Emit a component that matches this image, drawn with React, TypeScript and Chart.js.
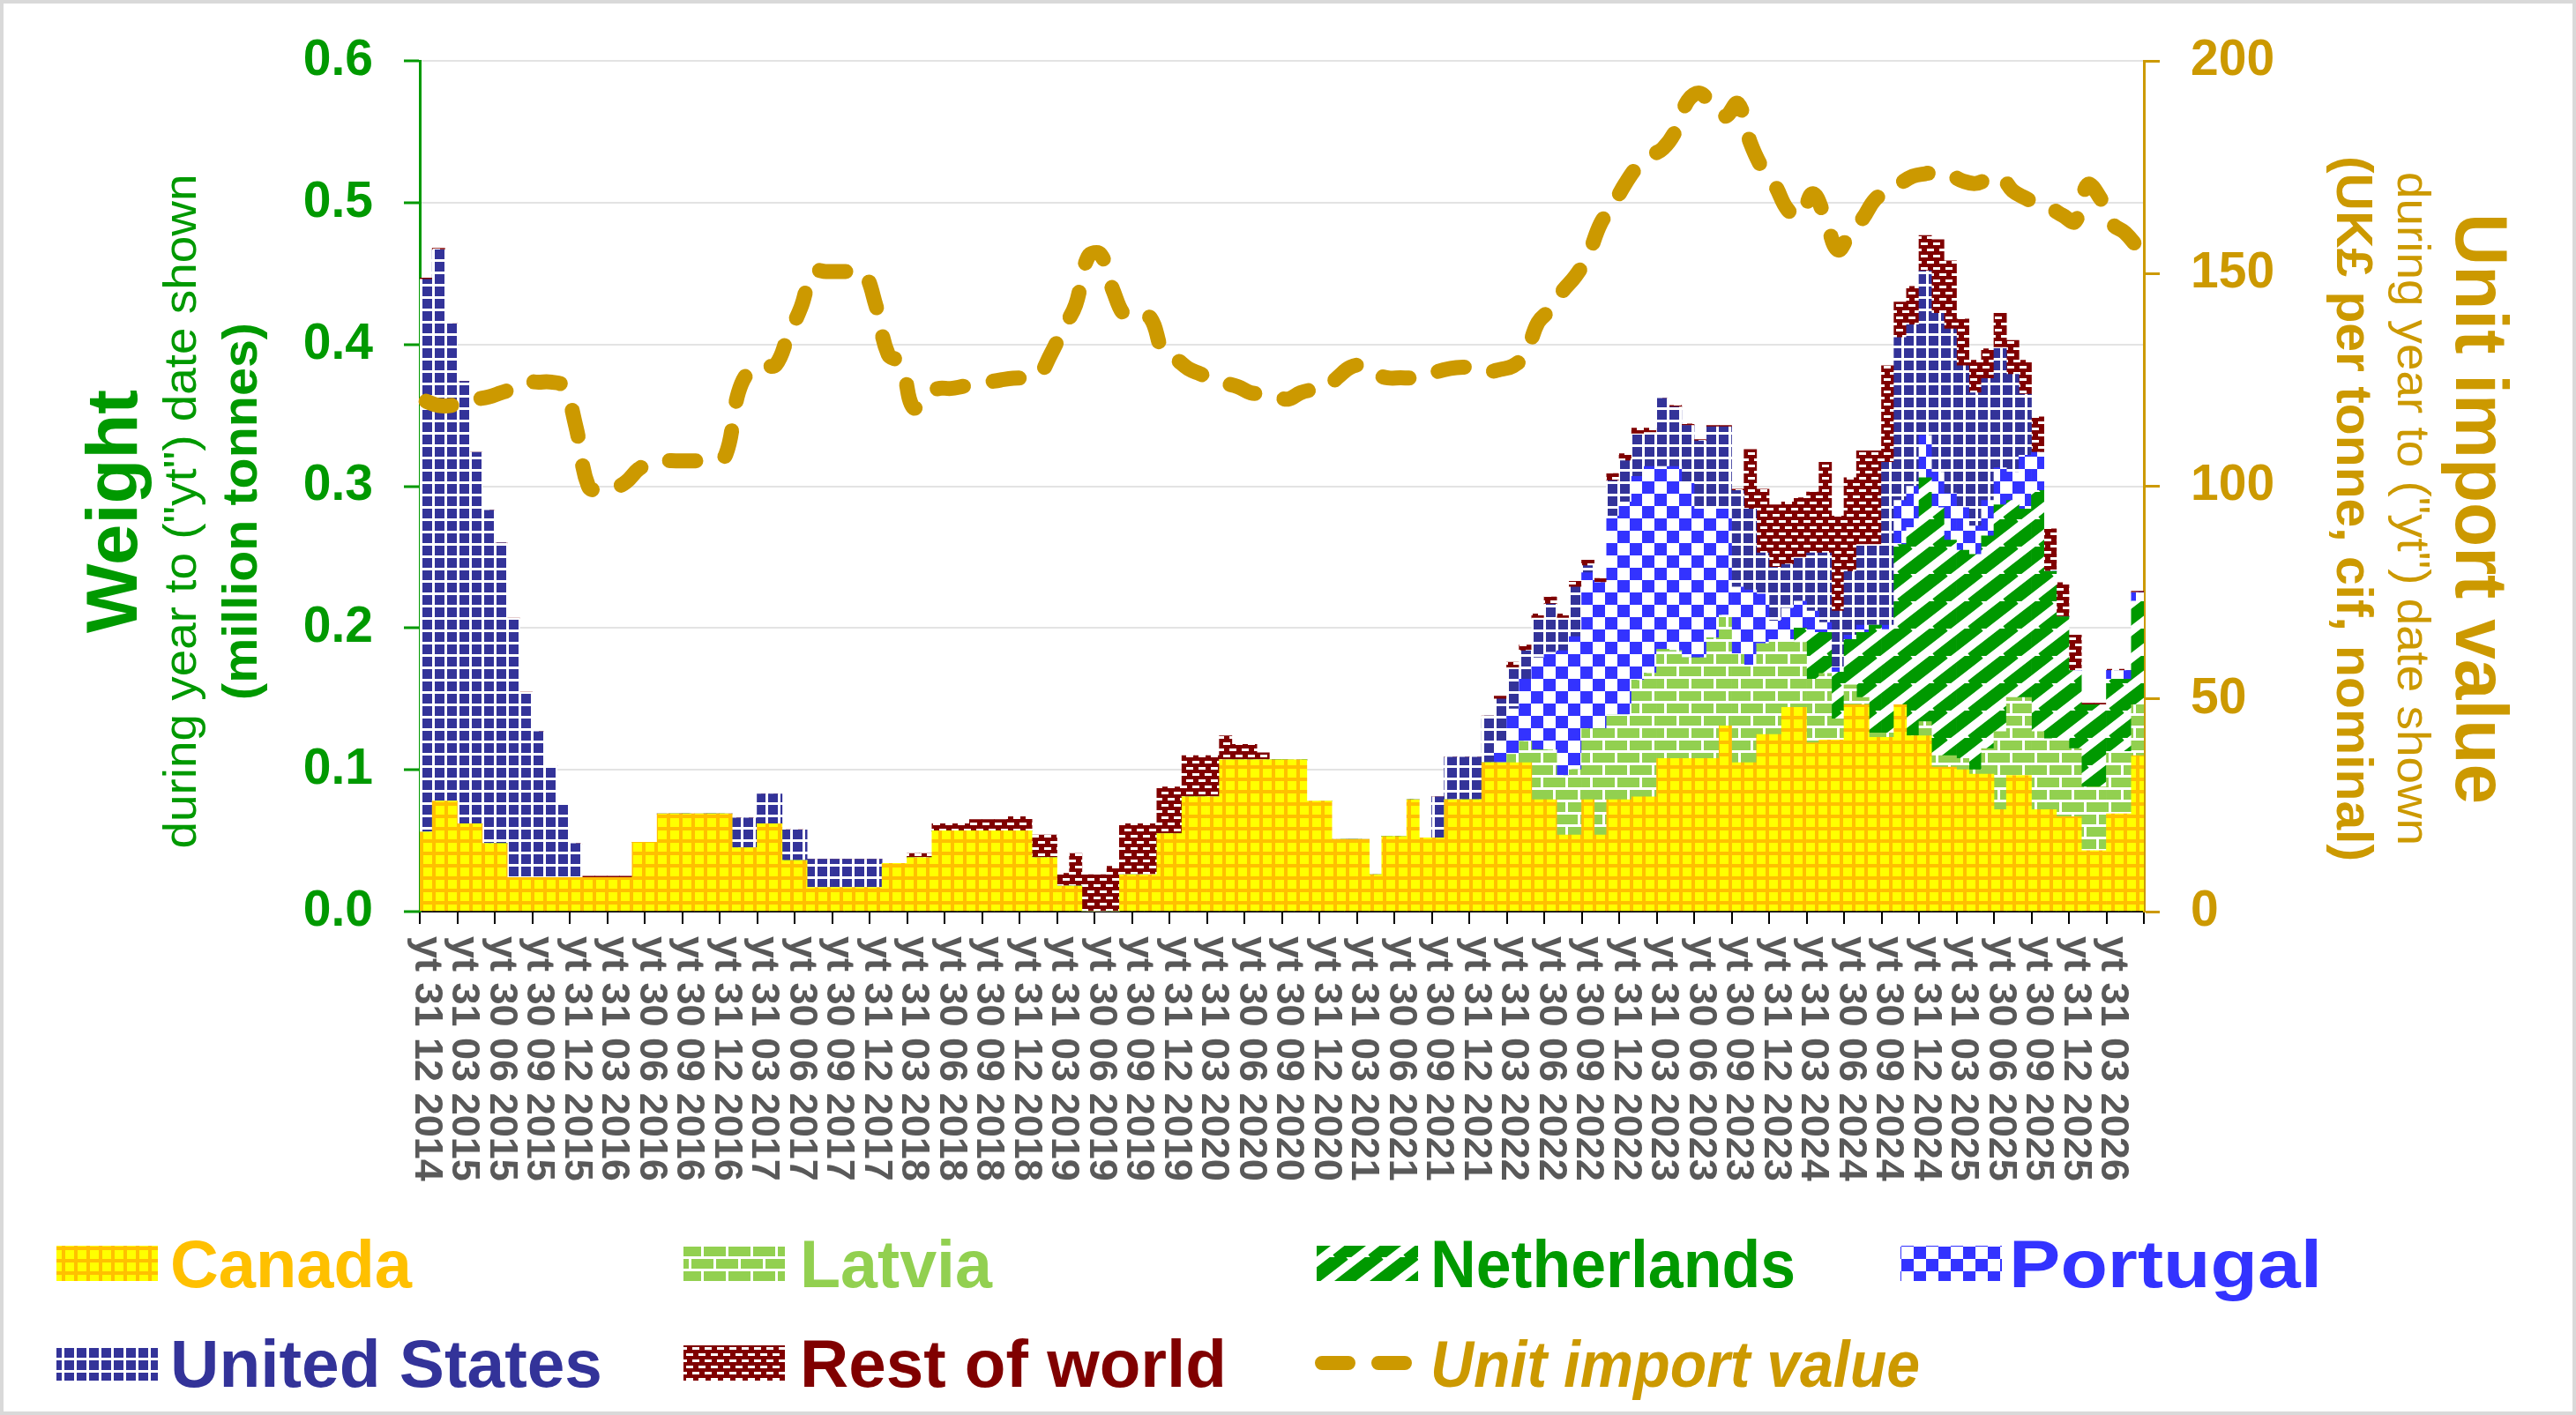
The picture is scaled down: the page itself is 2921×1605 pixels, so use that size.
import React, { useEffect, useRef } from "react";
import { Chart, registerables } from "chart.js";

Chart.register(...registerables);

const W = 2921;
const H = 1605;
const FONT = '"Liberation Sans", Arial, Helvetica, sans-serif';
const GREEN = "#009900";
const GOLD = "#CC9900";
const GREY_TEXT = "#595959";

// x-axis tick labels (every third month)
const tickLabels = [
  "yt 31 12 2014",
  "yt 31 03 2015", "yt 30 06 2015", "yt 30 09 2015", "yt 31 12 2015",
  "yt 31 03 2016", "yt 30 06 2016", "yt 30 09 2016", "yt 31 12 2016",
  "yt 31 03 2017", "yt 30 06 2017", "yt 30 09 2017", "yt 31 12 2017",
  "yt 31 03 2018", "yt 30 06 2018", "yt 30 09 2018", "yt 31 12 2018",
  "yt 31 03 2019", "yt 30 06 2019", "yt 30 09 2019", "yt 31 12 2019",
  "yt 31 03 2020", "yt 30 06 2020", "yt 30 09 2020", "yt 31 12 2020",
  "yt 31 03 2021", "yt 30 06 2021", "yt 30 09 2021", "yt 31 12 2021",
  "yt 31 03 2022", "yt 30 06 2022", "yt 30 09 2022", "yt 31 12 2022",
  "yt 31 03 2023", "yt 30 06 2023", "yt 30 09 2023", "yt 31 12 2023",
  "yt 31 03 2024", "yt 30 06 2024", "yt 30 09 2024", "yt 31 12 2024",
  "yt 31 03 2025", "yt 30 06 2025", "yt 30 09 2025", "yt 31 12 2025",
  "yt 31 03 2026",
];

// monthly categories, Dec 2014 .. May 2026
const MONTH_END = ["31", "28", "31", "30", "31", "30", "31", "31", "30", "31", "30", "31"];
const categories = Array.from({ length: 138 }, (_, k) => {
  const m = (11 + k) % 12;
  const y = 2014 + Math.floor((11 + k) / 12);
  const d = m === 1 && y % 4 === 0 ? "29" : MONTH_END[m];
  return `yt ${d} ${String(m + 1).padStart(2, "0")} ${y}`;
});

// Weight, million tonnes
const canada = [
  0.056, 0.078, 0.078, 0.062, 0.062, 0.048, 0.048, 0.024, 0.024, 0.024,
  0.024, 0.024, 0.024, 0.024, 0.024, 0.024, 0.024, 0.049, 0.049, 0.069,
  0.069, 0.069, 0.069, 0.069, 0.069, 0.045, 0.045, 0.062, 0.062, 0.036,
  0.036, 0.017, 0.017, 0.017, 0.017, 0.017, 0.017, 0.034, 0.034, 0.038,
  0.038, 0.057, 0.057, 0.057, 0.057, 0.057, 0.057, 0.057, 0.057, 0.038,
  0.038, 0.018, 0.018, 0, 0, 0, 0.026, 0.026, 0.026, 0.055,
  0.055, 0.081, 0.081, 0.081, 0.107, 0.107, 0.107, 0.107, 0.107, 0.107,
  0.107, 0.078, 0.078, 0.051, 0.051, 0.051, 0.026, 0.053, 0.053, 0.079,
  0.052, 0.052, 0.079, 0.079, 0.079, 0.105, 0.105, 0.105, 0.105, 0.079,
  0.079, 0.054, 0.054, 0.079, 0.054, 0.079, 0.079, 0.081, 0.081, 0.108,
  0.108, 0.108, 0.108, 0.108, 0.131, 0.105, 0.105, 0.125, 0.125, 0.144,
  0.144, 0.119, 0.121, 0.121, 0.146, 0.146, 0.123, 0.123, 0.146, 0.124,
  0.124, 0.102, 0.102, 0.100, 0.097, 0.097, 0.072, 0.096, 0.096, 0.072,
  0.072, 0.067, 0.067, 0.043, 0.043, 0.069, 0.069, 0.110,
];

const latvia = [
  0, 0, 0, 0, 0, 0, 0, 0, 0, 0,
  0, 0, 0, 0, 0, 0, 0, 0, 0, 0,
  0, 0, 0, 0, 0, 0, 0, 0, 0, 0,
  0, 0, 0, 0, 0, 0, 0, 0, 0, 0,
  0, 0, 0, 0, 0, 0, 0, 0, 0, 0,
  0, 0, 0, 0, 0, 0, 0, 0, 0, 0,
  0, 0, 0, 0, 0, 0, 0, 0, 0, 0,
  0, 0, 0, 0, 0, 0, 0, 0, 0, 0,
  0, 0, 0, 0, 0, 0, 0, 0.006, 0.015, 0.035,
  0.035, 0.042, 0.046, 0.050, 0.075, 0.060, 0.060, 0.082, 0.087, 0.077,
  0.076, 0.071, 0.071, 0.085, 0.078, 0.077, 0.069, 0.064, 0.067, 0.048,
  0.046, 0.045, 0.047, 0.015, 0.014, 0.005, 0.003, 0.003, 0, 0,
  0.010, 0.008, 0.008, 0.008, 0.003, 0.018, 0.055, 0.055, 0.055, 0.055,
  0.050, 0.055, 0.048, 0.045, 0.045, 0.044, 0.044, 0.036,
];

const netherlands = [
  0, 0, 0, 0, 0, 0, 0, 0, 0, 0,
  0, 0, 0, 0, 0, 0, 0, 0, 0, 0,
  0, 0, 0, 0, 0, 0, 0, 0, 0, 0,
  0, 0, 0, 0, 0, 0, 0, 0, 0, 0,
  0, 0, 0, 0, 0, 0, 0, 0, 0, 0,
  0, 0, 0, 0, 0, 0, 0, 0, 0, 0,
  0, 0, 0, 0, 0, 0, 0, 0, 0, 0,
  0, 0, 0, 0, 0, 0, 0, 0, 0, 0,
  0, 0, 0, 0, 0, 0, 0, 0, 0, 0,
  0, 0, 0, 0, 0, 0, 0, 0, 0, 0,
  0, 0, 0, 0, 0, 0, 0, 0, 0, 0,
  0.010, 0.033, 0.029, 0.033, 0.032, 0.046, 0.076, 0.073, 0.113, 0.147,
  0.172, 0.175, 0.152, 0.147, 0.152, 0.150, 0.160, 0.139, 0.133, 0.170,
  0.118, 0.086, 0.055, 0.058, 0.058, 0.051, 0.051, 0.073,
];

const portugal = [
  0, 0, 0, 0, 0, 0, 0, 0, 0, 0,
  0, 0, 0, 0, 0, 0, 0, 0, 0, 0,
  0, 0, 0, 0, 0, 0, 0, 0, 0, 0,
  0, 0, 0, 0, 0, 0, 0, 0, 0, 0,
  0, 0, 0, 0, 0, 0, 0, 0, 0, 0,
  0, 0, 0, 0, 0, 0, 0, 0, 0, 0,
  0, 0, 0, 0, 0, 0, 0, 0, 0, 0,
  0, 0, 0, 0, 0, 0, 0, 0, 0, 0,
  0, 0, 0, 0, 0, 0, 0.015, 0.032, 0.044, 0.065,
  0.069, 0.088, 0.094, 0.110, 0.103, 0.140, 0.150, 0.144, 0.146, 0.129,
  0.130, 0.123, 0.105, 0.091, 0.075, 0.047, 0.053, 0.035, 0.013, 0.022,
  0.019, 0.015, 0.007, 0.003, 0.003, 0.005, 0, 0.003, 0.031, 0.029,
  0.030, 0.025, 0.033, 0.030, 0.020, 0.025, 0.026, 0.020, 0.038, 0.027,
  0, 0, 0, 0, 0, 0.006, 0.006, 0.006,
];

const unitedStates = [
  0.390, 0.389, 0.337, 0.312, 0.262, 0.235, 0.212, 0.183, 0.131, 0.103,
  0.079, 0.051, 0.024, 0, 0, 0, 0, 0, 0, 0,
  0, 0, 0, 0, 0, 0.021, 0.021, 0.021, 0.021, 0.022,
  0.022, 0.020, 0.020, 0.020, 0.020, 0.020, 0.020, 0, 0, 0,
  0, 0, 0, 0, 0, 0, 0, 0, 0, 0,
  0, 0, 0, 0, 0, 0, 0, 0, 0, 0,
  0, 0, 0, 0, 0, 0, 0, 0, 0, 0,
  0, 0, 0, 0, 0, 0, 0, 0, 0, 0,
  0, 0.029, 0.030, 0.030, 0.030, 0.033, 0.030, 0.029, 0.020, 0.028,
  0.034, 0.023, 0.035, 0.005, 0, 0.025, 0.029, 0.030, 0.024, 0.048,
  0.042, 0.041, 0.048, 0.058, 0.058, 0.068, 0.057, 0.029, 0.038, 0.031,
  0.031, 0.041, 0.049, 0.040, 0.045, 0.057, 0.057, 0.115, 0.115, 0.114,
  0.116, 0.112, 0.116, 0.100, 0.094, 0.086, 0.085, 0.069, 0.043, 0,
  0, 0, 0, 0, 0, 0, 0, 0,
];

const restOfWorld = [
  0.001, 0.001, 0, 0, 0, 0, 0, 0, 0, 0,
  0, 0, 0, 0.001, 0.001, 0.001, 0.001, 0, 0, 0,
  0, 0, 0, 0, 0, 0, 0, 0, 0, 0,
  0, 0, 0, 0, 0, 0, 0, 0, 0, 0.003,
  0.003, 0.005, 0.005, 0.005, 0.008, 0.008, 0.008, 0.010, 0.010, 0.016,
  0.016, 0.009, 0.023, 0.026, 0.026, 0.032, 0.036, 0.036, 0.036, 0.033,
  0.033, 0.029, 0.029, 0.029, 0.017, 0.011, 0.011, 0.005, 0, 0,
  0, 0, 0, 0, 0, 0, 0, 0, 0, 0,
  0, 0, 0, 0, 0, 0, 0.002, 0.004, 0.004, 0.003,
  0.005, 0.003, 0.004, 0.004, 0.003, 0.005, 0.005, 0.004, 0.003, 0,
  0.001, 0.001, 0.001, 0.001, 0.001, 0.001, 0.042, 0.045, 0.044, 0.044,
  0.042, 0.043, 0.064, 0.067, 0.066, 0.066, 0.066, 0.068, 0.025, 0.027,
  0.025, 0.052, 0.048, 0.033, 0.023, 0.021, 0.024, 0.024, 0.024, 0.025,
  0.030, 0.024, 0.025, 0.001, 0.001, 0.001, 0.001, 0.001,
];

// Unit import value, UK£ per tonne
const unitValue = [
  120, 119, 119, 120, 120.5, 121, 122, 123, 124.5, 124.5,
  124.5, 123.5, 114, 100, 99, 99.5, 101, 104, 105.5, 106,
  106, 106, 106, 106, 107.5, 122, 127.5, 128.3, 128.6, 135.5,
  142, 150.5, 150.5, 150.5, 150.5, 150.5, 142.6, 131, 129, 118.5,
  121.5, 123, 123, 123.5, 124, 124.5, 125, 125.4, 125.5, 126,
  131, 137, 142.7, 154, 154.5, 146, 140, 140, 139.5, 131.6,
  130, 127.7, 126.4, 125, 124.2, 123.4, 122, 121.8, 121.2, 120.5,
  122, 122.7, 123, 125.7, 128, 128.4, 126.4, 125.5, 125.5, 125.5,
  125.7, 127, 127.7, 128, 128, 127, 127.5, 128.3, 131, 138.5,
  141.6, 146, 149.4, 154.2, 161.7, 166.1, 171.2, 175.3, 177.7, 179.4,
  183.5, 190.7, 192.4, 189, 187, 190, 180.8, 174.6, 170.6, 165,
  163.5, 168.8, 163, 155.6, 159.6, 163, 167.5, 169.2, 171.2, 172.9,
  173.5, 173.8, 173.2, 171.8, 171.2, 172.2, 172.9, 169.5, 167.8, 166.4,
  165.4, 163.7, 162.3, 170.9, 167.8, 161.7, 159.6, 156.2,
];

function makeTile(w: number, h: number, draw: (g: CanvasRenderingContext2D) => void) {
  const c = document.createElement("canvas");
  c.width = w;
  c.height = h;
  const g = c.getContext("2d") as CanvasRenderingContext2D;
  draw(g);
  return c;
}

function makePatterns(ctx: CanvasRenderingContext2D) {
  const canadaTile = makeTile(14, 14, (g) => {
    g.fillStyle = "#FFFF00";
    g.fillRect(0, 0, 14, 14);
    g.fillStyle = "#FFC000";
    g.fillRect(0, 0, 14, 4);
    g.fillRect(0, 0, 4, 14);
  });
  const latviaTile = makeTile(28, 28, (g) => {
    g.fillStyle = "#FFFFFF";
    g.fillRect(0, 0, 28, 28);
    g.fillStyle = "#92D050";
    g.fillRect(0, 0, 25, 11);
    g.fillRect(14, 14, 14, 11);
    g.fillRect(0, 14, 11, 11);
  });
  const nethTile = makeTile(40, 31, (g) => {
    g.fillStyle = "#FFFFFF";
    g.fillRect(0, 0, 40, 31);
    g.strokeStyle = GREEN;
    g.lineWidth = 15;
    g.beginPath();
    for (const o of [-40, 0, 40]) {
      g.moveTo(o - 4, 31 + 3.1);
      g.lineTo(o + 44, -3.1);
    }
    g.stroke();
  });
  const portugalTile = makeTile(28, 28, (g) => {
    g.fillStyle = "#FFFFFF";
    g.fillRect(0, 0, 28, 28);
    g.fillStyle = "#3333FF";
    g.fillRect(0, 0, 14, 14);
    g.fillRect(14, 14, 14, 14);
  });
  const usTile = makeTile(14, 14, (g) => {
    g.fillStyle = "#333399";
    g.fillRect(0, 0, 14, 14);
    g.fillStyle = "#FFFFFF";
    g.fillRect(0, 0, 14, 3);
    g.fillRect(0, 0, 3, 14);
  });
  const rowTile = makeTile(14, 14, (g) => {
    g.fillStyle = "#800000";
    g.fillRect(0, 0, 14, 14);
    g.fillStyle = "#FFFFFF";
    g.fillRect(1, 2, 8, 3);
    g.fillRect(8, 9, 6, 3);
    g.fillRect(0, 9, 2, 3);
  });
  return {
    canada: ctx.createPattern(canadaTile, "repeat") as CanvasPattern,
    latvia: ctx.createPattern(latviaTile, "repeat") as CanvasPattern,
    netherlands: ctx.createPattern(nethTile, "repeat") as CanvasPattern,
    portugal: ctx.createPattern(portugalTile, "repeat") as CanvasPattern,
    us: ctx.createPattern(usTile, "repeat") as CanvasPattern,
    row: ctx.createPattern(rowTile, "repeat") as CanvasPattern,
  };
}

// draws centred rotated text, stretched along its length to a target length
function rotText(
  ctx: CanvasRenderingContext2D,
  text: string,
  x: number,
  y: number,
  angle: number,
  font: string,
  color: string,
  targetLen: number
) {
  ctx.save();
  ctx.translate(x, y);
  ctx.rotate(angle);
  ctx.font = font;
  ctx.fillStyle = color;
  ctx.textAlign = "center";
  ctx.textBaseline = "alphabetic";
  const w = ctx.measureText(text).width;
  ctx.scale(targetLen / w, 1);
  ctx.fillText(text, 0, 0);
  ctx.restore();
}

function fitText(
  ctx: CanvasRenderingContext2D,
  text: string,
  x: number,
  y: number,
  font: string,
  color: string,
  targetW: number
) {
  ctx.save();
  ctx.font = font;
  ctx.fillStyle = color;
  ctx.textAlign = "left";
  ctx.textBaseline = "alphabetic";
  const w = ctx.measureText(text).width;
  ctx.translate(x, y);
  ctx.scale(targetW / w, 1);
  ctx.fillText(text, 0, 0);
  ctx.restore();
}

export default function App() {
  const ref = useRef<HTMLCanvasElement | null>(null);

  useEffect(() => {
    const canvas = ref.current;
    if (!canvas) return;
    const ctx0 = canvas.getContext("2d") as CanvasRenderingContext2D;
    const pats = makePatterns(ctx0);

    const bgPlugin = {
      id: "bg",
      beforeDraw(chart: any) {
        const c = chart.ctx as CanvasRenderingContext2D;
        c.save();
        c.fillStyle = "#FFFFFF";
        c.fillRect(0, 0, chart.width, chart.height);
        c.strokeStyle = "#D9D9D9";
        c.lineWidth = 4;
        c.strokeRect(2, 2, chart.width - 4, chart.height - 4);
        c.restore();
      },
    };

    const decoPlugin = {
      id: "deco",
      afterDraw(chart: any) {
        const c = chart.ctx as CanvasRenderingContext2D;
        const xs = chart.scales.x;
        // x tick labels, rotated clockwise
        c.save();
        c.font = `bold 45px ${FONT}`;
        c.fillStyle = GREY_TEXT;
        c.textAlign = "left";
        c.textBaseline = "middle";
        tickLabels.forEach((lab, i) => {
          const px = xs.getPixelForValue(i * 3);
          c.save();
          c.translate(px, xs.top + 28);
          c.rotate(Math.PI / 2);
          c.fillText(lab, 0, 0);
          c.restore();
        });
        c.restore();

        // left axis titles
        const cyL = 580;
        rotText(c, "Weight", 155, cyL, -Math.PI / 2, `bold 82px ${FONT}`, GREEN, 276);
        rotText(c, 'during year to ("yt") date shown', 222, cyL, -Math.PI / 2, `52px ${FONT}`, GREEN, 765);
        rotText(c, "(million tonnes)", 291, cyL, -Math.PI / 2, `bold 56px ${FONT}`, GREEN, 428);
        // right axis titles
        const cyR = 577;
        rotText(c, "Unit import value", 2785, cyR, Math.PI / 2, `bold 83px ${FONT}`, GOLD, 670);
        rotText(c, 'during year to ("yt") date shown', 2719, cyR, Math.PI / 2, `52px ${FONT}`, GOLD, 764);
        rotText(c, "(UK£ per tonne, cif, nominal)", 2650, cyR, Math.PI / 2, `bold 58px ${FONT}`, GOLD, 800);

        // legend
        const patchX = [64, 775, 1493, 2155];
        const textX = [193, 907, 1622, 2278];
        const rowY = [1433, 1546];
        const pw = 115;
        const ph = 40;
        const items = [
          { label: "Canada", col: 0, row: 0, color: "#FFC000", fill: pats.canada, tw: 274 },
          { label: "Latvia", col: 1, row: 0, color: "#92D050", fill: pats.latvia, tw: 218 },
          { label: "Netherlands", col: 2, row: 0, color: GREEN, fill: pats.netherlands, tw: 414 },
          { label: "Portugal", col: 3, row: 0, color: "#3333FF", fill: pats.portugal, tw: 355 },
          { label: "United States", col: 0, row: 1, color: "#333399", fill: pats.us, tw: 490 },
          { label: "Rest of world", col: 1, row: 1, color: "#800000", fill: pats.row, tw: 484 },
        ];
        items.forEach((it) => {
          const y = rowY[it.row];
          c.save();
          c.fillStyle = it.fill;
          c.fillRect(patchX[it.col], y - ph / 2, pw, ph);
          c.restore();
          fitText(c, it.label, textX[it.col], y + 27, `bold 76px ${FONT}`, it.color, it.tw);
        });
        // line legend
        const ly = rowY[1];
        c.save();
        c.strokeStyle = GOLD;
        c.lineWidth = 16;
        c.lineCap = "round";
        c.setLineDash([30, 34]);
        c.beginPath();
        c.moveTo(patchX[2] + 6, ly);
        c.lineTo(patchX[2] + 104, ly);
        c.stroke();
        c.restore();
        fitText(c, "Unit import value", textX[2], ly + 27, `italic bold 74px ${FONT}`, GOLD, 555);
      },
    };

    const barDs = (label: string, data: number[], fill: CanvasPattern) => ({
      type: "bar" as const,
      label,
      data,
      backgroundColor: fill,
      borderWidth: 0,
      barPercentage: 1,
      categoryPercentage: 1,
      yAxisID: "y",
      stack: "w",
      order: 0,
    });

    const chart = new Chart(canvas, {
      type: "bar",
      data: {
        labels: categories,
        datasets: [
          {
            type: "line" as const,
            label: "Unit import value",
            data: unitValue,
            yAxisID: "y1",
            borderColor: GOLD,
            backgroundColor: GOLD,
            borderWidth: 17,
            borderDash: [30, 34],
            borderCapStyle: "round",
            borderJoinStyle: "round",
            pointRadius: 0,
            tension: 0.4,
            fill: false,
            order: -1,
          } as any,
          barDs("Canada", canada, pats.canada),
          barDs("Latvia", latvia, pats.latvia),
          barDs("Netherlands", netherlands, pats.netherlands),
          barDs("Portugal", portugal, pats.portugal),
          barDs("United States", unitedStates, pats.us),
          barDs("Rest of world", restOfWorld, pats.row),
        ],
      },
      options: {
        responsive: false,
        animation: false,
        events: [],
        layout: { padding: { top: 56, left: 0, right: 0, bottom: 0 } },
        plugins: {
          legend: { display: false },
          tooltip: { enabled: false },
          title: { display: false },
        },
        scales: {
          x: {
            type: "category",
            stacked: true,
            offset: true,
            ticks: { display: false, autoSkip: false },
            grid: {
              display: true,
              offset: true,
              drawOnChartArea: false,
              drawTicks: true,
              tickLength: 14,
              lineWidth: 2,
              color: (ctx: any) =>
                ctx.index === undefined || ctx.index % 3 === 0 ? "#000000" : "rgba(0,0,0,0)",
            },
            border: { display: true, color: "#000000", width: 2 },
            afterFit: (scale: any) => {
              scale.height = H - 1034;
            },
          },
          y: {
            type: "linear",
            position: "left",
            stacked: true,
            min: 0,
            max: 0.6,
            ticks: {
              stepSize: 0.1,
              padding: 35,
              color: GREEN,
              font: { family: FONT, size: 57, weight: "bold" },
              callback: (v: any) => Number(v).toFixed(1),
            },
            grid: {
              color: "#E3E3E3",
              lineWidth: 2,
              tickColor: GREEN,
              tickLength: 18,
              tickWidth: 3,
              drawTicks: true,
            },
            border: { display: true, color: GREEN, width: 3 },
            afterFit: (scale: any) => {
              scale.width = 476;
            },
          },
          y1: {
            type: "linear",
            position: "right",
            min: 0,
            max: 200,
            ticks: {
              stepSize: 50,
              padding: 35,
              color: GOLD,
              font: { family: FONT, size: 57, weight: "bold" },
            },
            grid: {
              drawOnChartArea: false,
              tickColor: GOLD,
              tickLength: 18,
              tickWidth: 3,
              drawTicks: true,
            },
            border: { display: true, color: GOLD, width: 3 },
            afterFit: (scale: any) => {
              scale.width = W - 2431;
            },
          },
        },
      } as any,
      plugins: [bgPlugin, decoPlugin],
    });

    return () => {
      chart.destroy();
    };
  }, []);

  return (
    <div style={{ position: "absolute", left: 0, top: 0, width: W, height: H, overflow: "hidden" }}>
      <canvas ref={ref} width={W} height={H} style={{ width: W, height: H, display: "block" }} />
    </div>
  );
}
